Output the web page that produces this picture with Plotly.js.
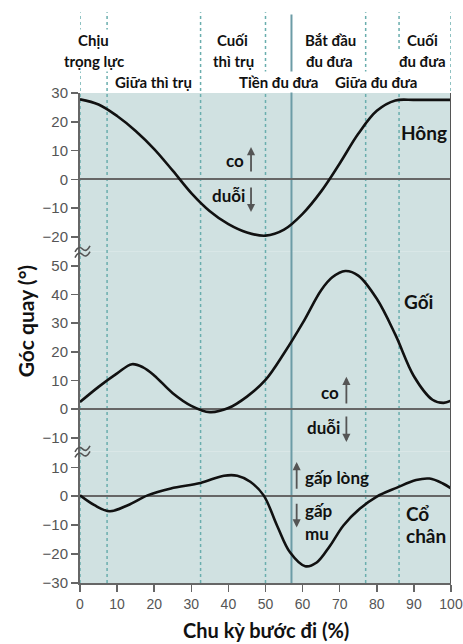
<!DOCTYPE html>
<html>
<head>
<meta charset="utf-8">
<script src="https://cdn.plot.ly/plotly-3.0.1.min.js"></script>
<style>html,body{margin:0;padding:0;background:#fff;}#chart{width:463px;height:644px;}</style>
</head>
<body>
<div id="chart"></div>
<script>
// Gait cycle (%) and joint angles (degrees)
const hipX   = [0,5,10,15,20,25,30,35,40,45,50,55,60,65,70,75,80,85,90,95,100];
const hipY   = [27.8,26,22,16.8,10.5,3,-4.8,-11.1,-15.6,-18.5,-19.6,-17.5,-12,-4.2,5.5,15.8,23.8,27.4,27.6,27.6,27.6];
const kneeX  = [0,5,10,14,17,20,25,30,35,40,45,50,55,60,65,68,71.5,75,80,85,90,95,98,100];
const kneeY  = [2.5,7.8,12.5,15.7,14.6,11.8,5.6,1.2,-1,0.4,4.4,10.2,19.5,30,41.5,46,48.2,46.6,38.5,26,11.5,3.3,2.2,3];
const ankleX = [0,3.9,8,12.9,18.2,24.5,32.5,38.8,42.4,45.9,49.5,53.1,56.6,60.7,63.8,67.4,71,75.4,79.9,85.3,90.6,94.2,97.8,100];
const ankleY = [0.3,-3.1,-5.2,-3.1,0.3,2.7,4.6,7.1,7.1,5,0.3,-10.1,-19.4,-24.2,-22.9,-17.1,-10.1,-4.3,-0.2,2.9,5.6,6.1,4.4,2.7];

// Phase boundaries (%)
const phaseDotted = [0,7.3,32.5,50,77,86,100];
const toeOff = 57;

// Phase labels: [text, x(%), row]
const phaseLabels = [
  ["Chịu",3.6,0],["trọng lực",3.8,1],["Giữa thì trụ",19.8,2],
  ["Cuối",41,0],["thì trụ",41.3,1],["Tiền đu đưa",53.6,2],
  ["Bắt đầu",67.4,0],["đu đưa",67.3,1],["Giữa đu đưa",79.9,2],
  ["Cuối",92.2,0],["đu đưa",92.2,1]
];

const F = "Lato, 'Open Sans', sans-serif";
const lineStyle = {color:'#111', width:2.6, shape:'spline', smoothing:1};

const traces = [
  {x:hipX, y:hipY, yaxis:'y3', mode:'lines', line:lineStyle, hoverinfo:'skip'},
  {x:kneeX, y:kneeY, yaxis:'y2', mode:'lines', line:lineStyle, hoverinfo:'skip'},
  {x:ankleX, y:ankleY, yaxis:'y', mode:'lines', line:lineStyle, hoverinfo:'skip'}
];

const W = 463, H = 644, M = {l:80, r:12, t:93, b:61};
const PW = W - M.l - M.r, PH = H - M.t - M.b;
const b1 = 0.268, b2 = 0.676;
const axCommon = {
  showgrid:false, showline:true, linecolor:'#666', linewidth:2,
  ticks:'outside', ticklen:7, tickwidth:1.5, tickcolor:'#666',
  zeroline:true, zerolinecolor:'#666', zerolinewidth:2,
  tickfont:{family:"'Liberation Sans', Arial, sans-serif", size:15, color:'#555'},
  dtick:10, fixedrange:true
};

const shapes = [];
phaseDotted.forEach(p => shapes.push({type:'line', xref:'x', yref:'paper', x0:p, x1:p, y0:0, y1:1.165,
  line:{color:'#6aaeae', width:1.5, dash:'dot'}, layer:'below'}));
shapes.push({type:'line', xref:'x', yref:'paper', x0:toeOff, x1:toeOff, y0:0, y1:1.16,
  line:{color:'#6c9ca6', width:2}, layer:'below'});
shapes.push({type:'line', xref:'x', yref:'paper', x0:100, x1:100, y0:0, y1:1,
  line:{color:'#555', width:2}});

// axis-break marks (two wavy strokes) drawn in paper units
function px(X){ return ((X - M.l)/PW).toFixed(4); }
function py(Y){ return ((M.t + PH - Y)/PH).toFixed(4); }
[b2, b1].forEach(b => {
  const Yc = M.t + PH*(1-b);
  [-2.8, 2.8].forEach(d => {
    const y = Yc + d;
    const path = `M ${px(75)},${py(y+3)} Q ${px(78.5)},${py(y-4)} ${px(82.5)},${py(y)} T ${px(90)},${py(y-3)}`;
    shapes.push({type:'path', xref:'paper', yref:'paper', path:path, line:{color:'#555', width:1.6}});
  });
});

const rowY = [1.108, 1.065, 1.0224];
const annotations = phaseLabels.map(([t,x,r]) => ({
  text:'<b>'+t+'</b>', x:x, xref:'x', y:rowY[r], yref:'paper', showarrow:false,
  xanchor:'center', yanchor:'middle', bgcolor:'#fff', borderpad:1,
  font:{family:F, size:15, color:'#111'}
}));

function lab(t, x, y, yref, xanchor, size){
  return {text:'<b>'+t+'</b>', x:x, y:y, xref:'x', yref:yref, showarrow:false,
    xanchor:xanchor||'center', yanchor:'middle', font:{family:F, size:size||17, color:'#111'}};
}
function arr(x, y0, y1, yref){
  return {text:'', x:x, y:y1, ax:x, ay:y0, xref:'x', yref:yref, axref:'x', ayref:yref,
    showarrow:true, arrowhead:2, arrowsize:0.9, arrowwidth:1.8, arrowcolor:'#555'};
}
annotations.push(
  lab('Hông',92.8,16.1,'y3','center',19),
  lab('Gối',91.2,37.4,'y2','center',19),
  lab('Cổ',87.2,-5.9,'y','left',19),
  lab('chân',87.2,-13.5,'y','left',19),
  lab('co',44.8,6.7,'y3','right'),
  arr(46.1,2.2,11.2,'y3'),
  lab('duỗi',45,-5.8,'y3','right'),
  arr(46.1,-2.3,-11.4,'y3'),
  lab('co',70.4,6,'y2','right'),
  arr(71.8,1.5,11.3,'y2'),
  lab('duỗi',70.6,-6.2,'y2','right'),
  arr(71.8,-2,-11.4,'y2'),
  lab('gấp lòng',60.1,6.6,'y','left'),
  arr(58.4,2.1,11.8,'y'),
  lab('gấp',60.1,-4.9,'y','left'),
  lab('mu',60.1,-12.9,'y','left'),
  arr(58.4,-2.1,-10.8,'y'),
  {text:'<b>Góc quay (°)</b>', xref:'paper', yref:'paper', x:-0.147, y:0.535, showarrow:false,
   textangle:-90, font:{family:F, size:21, color:'#111'}, xanchor:'center', yanchor:'middle'},
  {text:'<b>Chu kỳ bước đi (%)</b>', xref:'paper', yref:'paper', x:0.5, y:-0.096, showarrow:false,
   font:{family:F, size:20, color:'#111'}, xanchor:'center', yanchor:'middle'}
);

const layout = {
  width:W, height:H,
  margin:M,
  paper_bgcolor:'#fff', plot_bgcolor:'#d0e1e1',
  showlegend:false,
  xaxis:Object.assign({}, axCommon, {range:[0,100], anchor:'y', zeroline:false,
    tickfont:{family:"'Liberation Sans', Arial, sans-serif", size:14, color:'#555'}}),
  yaxis:Object.assign({}, axCommon, {domain:[0,b1], range:[-30,15.4], anchor:'x'}),
  yaxis2:Object.assign({}, axCommon, {domain:[b1,b2], range:[-14.8,54.9], anchor:'x'}),
  yaxis3:Object.assign({}, axCommon, {domain:[b2,1], range:[-25.2,30], anchor:'x'}),
  shapes:shapes,
  annotations:annotations
};

Plotly.newPlot('chart', traces, layout, {displayModeBar:false, staticPlot:true});
</script>
</body>
</html>
